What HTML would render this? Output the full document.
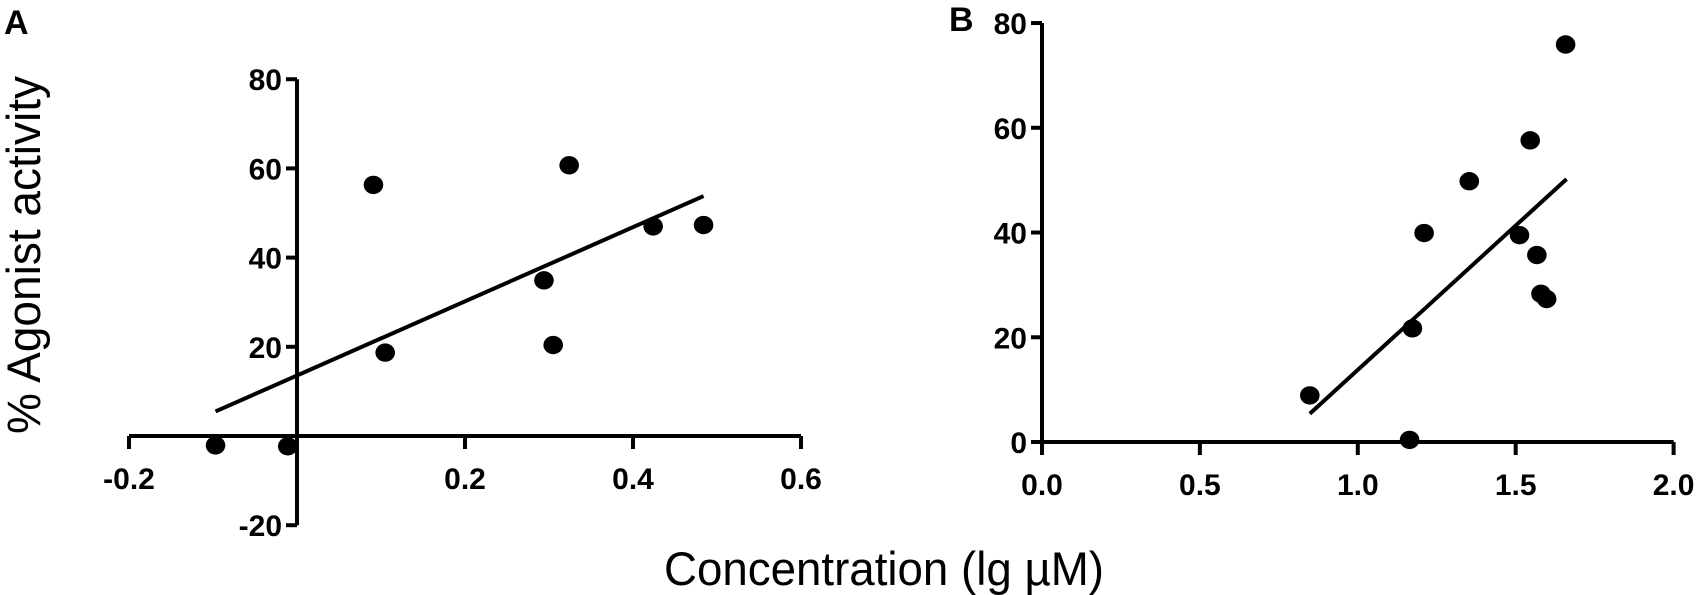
<!DOCTYPE html>
<html><head><meta charset="utf-8"><style>
html,body{margin:0;padding:0;background:#fff;}
svg{display:block;}
.tk{font-family:"Liberation Sans",sans-serif;font-weight:bold;font-size:30px;fill:#000;}
.ttl{font-family:"Liberation Sans",sans-serif;font-size:47px;fill:#000;}
.pl{font-family:"Liberation Sans",sans-serif;font-weight:bold;font-size:34px;fill:#000;}
</style></head><body>
<svg id="fig" width="1698" height="595" viewBox="0 0 1698 595" xmlns="http://www.w3.org/2000/svg">
<text class="pl" x="4" y="34">A</text>
<text class="pl" x="949" y="31">B</text>
<text class="ttl" transform="translate(40,255) rotate(-90)" text-anchor="middle" textLength="358" lengthAdjust="spacingAndGlyphs">% Agonist activity</text>
<text class="ttl" x="664" y="585" textLength="440" lengthAdjust="spacingAndGlyphs">Concentration (lg µM)</text>
<g id="pa"></g>
<g id="pb"></g>
</svg>
<script>
const aXTicks = [-0.2, 0, 0.2, 0.4, 0.6];
const aXTickLabels = ["-0.2", "", "0.2", "0.4", "0.6"];
const aYTicks = [-20, 0, 20, 40, 60, 80];
const aYTickLabels = ["-20", "", "20", "40", "60", "80"];
const aX = [-0.097, -0.011, 0.091, 0.105, 0.294, 0.305, 0.324, 0.424, 0.484];
const aY = [-2.1, -2.3, 56.3, 18.7, 34.9, 20.4, 60.7, 47.0, 47.3];
const aFitX = [-0.097, 0.484];
const aFitY = [5.5, 53.8];

const bXTicks = [0, 0.5, 1.0, 1.5, 2.0];
const bXTickLabels = ["0.0", "0.5", "1.0", "1.5", "2.0"];
const bYTicks = [0, 20, 40, 60, 80];
const bYTickLabels = ["0", "20", "40", "60", "80"];
const bX = [0.848, 1.164, 1.173, 1.21, 1.353, 1.512, 1.546, 1.567, 1.58, 1.598, 1.658];
const bY = [8.9, 0.4, 21.7, 39.9, 49.8, 39.5, 57.6, 35.7, 28.3, 27.3, 75.9];
const bFitX = [0.848, 1.661];
const bFitY = [5.4, 50.2];

const NS = "http://www.w3.org/2000/svg";
function mk(tag, attrs, parent) {
  const e = document.createElementNS(NS, tag);
  for (const k in attrs) e.setAttribute(k, attrs[k]);
  parent.appendChild(e);
  return e;
}
function panel(g, sx, sy, xt, xtl, yt, ytl, px, py, fx, fy, pre) {
  const x0 = sx(0), y0 = sy(0);
  const xa = mk("line", {x1: sx(xt[0]), x2: sx(xt[xt.length-1]), y1: y0, y2: y0, stroke: "#000", "stroke-width": 4}, g);
  
  
  const ya = mk("line", {x1: x0, x2: x0, y1: sy(yt[0]), y2: sy(yt[yt.length-1]), stroke: "#000", "stroke-width": 4}, g);
  
  
  xt.forEach((v, i) => {
    if (v !== 0 || xtl[i] !== "") {
      const t = mk("line", {x1: sx(v), x2: sx(v), y1: y0, y2: y0 + 13, stroke: "#000", "stroke-width": 4}, g);
      
      
    }
    if (xtl[i]) {
      const l = mk("text", {x: sx(v), y: y0 + 53, "text-anchor": "middle", class: "tk"}, g);
      l.textContent = xtl[i];
      
      
    }
  });
  yt.forEach((v, i) => {
    const t = mk("line", {x1: x0 - 11, x2: x0, y1: sy(v), y2: sy(v), stroke: "#000", "stroke-width": 4}, g);
    
    
    if (ytl[i]) {
      const l = mk("text", {x: x0 - 15, y: sy(v) + 11, "text-anchor": "end", class: "tk"}, g);
      l.textContent = ytl[i];
      
      
    }
  });
  const fl = mk("line", {x1: sx(fx[0]), y1: sy(fy[0]), x2: sx(fx[1]), y2: sy(fy[1]), stroke: "#000", "stroke-width": 4}, g);
  
  
  px.forEach((v, i) => {
    const c = mk("ellipse", {cx: sx(v), cy: sy(py[i]), rx: 9.8, ry: 9.2, fill: "#000"}, g);
    
    
  });
}
panel(document.getElementById("pa"), v => 297 + v * 840, v => 436 - v * 4.46,
  aXTicks, aXTickLabels, aYTicks, aYTickLabels, aX, aY, aFitX, aFitY, "panel-a");
panel(document.getElementById("pb"), v => 1042 + v * 315.8, v => 442 - v * 5.237,
  bXTicks, bXTickLabels, bYTicks, bYTickLabels, bX, bY, bFitX, bFitY, "panel-b");
</script>
</body></html>
